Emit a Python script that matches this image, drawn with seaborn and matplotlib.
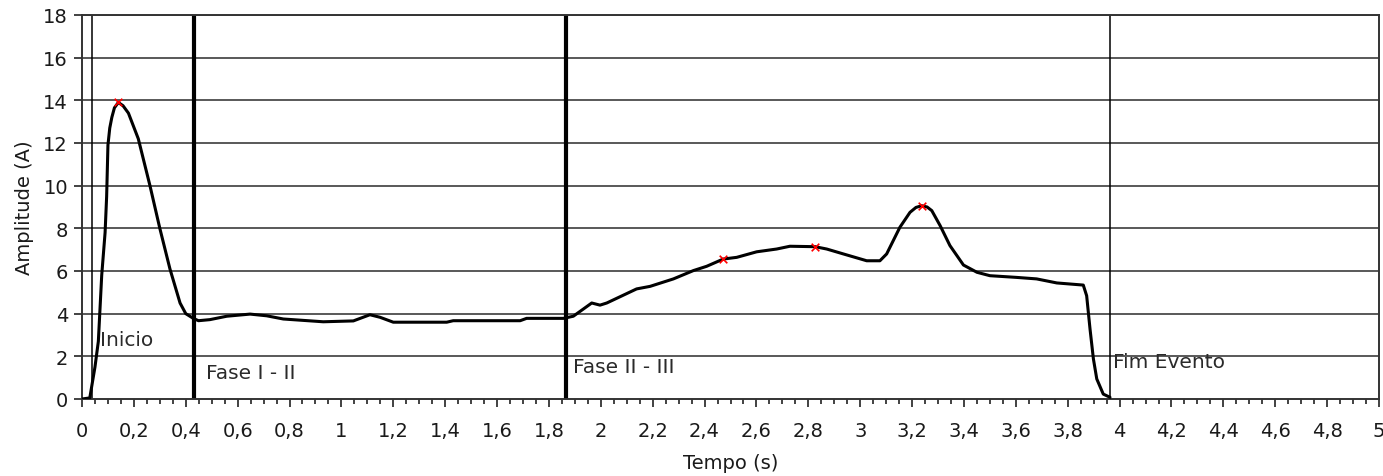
import numpy as np
import pandas as pd
import seaborn as sns
import matplotlib.pyplot as plt
from matplotlib.ticker import MultipleLocator, FuncFormatter

# ---- data ----
tempo = [0.0, 0.03, 0.05, 0.063, 0.076, 0.089, 0.095, 0.10, 0.107, 0.115, 0.125, 0.14, 0.158,
         0.179, 0.217, 0.262, 0.30, 0.339, 0.378, 0.40, 0.429, 0.449, 0.493, 0.558, 0.648,
         0.712, 0.776, 0.93, 1.046, 1.11, 1.149, 1.2, 1.406, 1.431, 1.689, 1.714, 1.856,
         1.894, 1.933, 1.965, 1.997, 2.023, 2.138, 2.19, 2.28, 2.357, 2.408, 2.472, 2.524,
         2.601, 2.678, 2.729, 2.826, 2.871, 2.935, 3.025, 3.076, 3.102, 3.153, 3.192, 3.215,
         3.237, 3.258, 3.276, 3.308, 3.346, 3.398, 3.45, 3.5, 3.603, 3.68, 3.758, 3.86,
         3.873, 3.886, 3.899, 3.912, 3.937, 3.963]
amplitude = [0.0, 0.05, 1.5, 2.7, 5.8, 7.8, 9.5, 11.9, 12.7, 13.2, 13.65, 13.9, 13.75,
             13.4, 12.2, 10.0, 8.0, 6.1, 4.5, 4.0, 3.78, 3.67, 3.72, 3.88, 3.98,
             3.9, 3.75, 3.62, 3.66, 3.95, 3.83, 3.6, 3.6, 3.67, 3.67, 3.78, 3.78,
             3.88, 4.22, 4.5, 4.4, 4.5, 5.16, 5.28, 5.63, 6.02, 6.22, 6.56, 6.64,
             6.9, 7.03, 7.16, 7.14, 7.03, 6.8, 6.48, 6.48, 6.8, 8.05, 8.75, 8.98,
             9.06, 9.0, 8.83, 8.13, 7.19, 6.28, 5.94, 5.78, 5.7, 5.63, 5.44, 5.34,
             4.84, 3.28, 1.88, 0.94, 0.23, 0.08]

peak_t = [0.14, 2.472, 2.826, 3.237]
peak_a = [13.9, 6.56, 7.14, 9.06]

marker_t = [0.0386, 0.432, 1.866, 3.963]
marker_labels = ["Inicio", "Fase I - II", "Fase II - III", "Fim Evento"]
marker_widths = [1.1, 3.0, 3.0, 1.1]
label_y = [2.8, 1.22, 1.5, 1.75]
label_dx = [0.03, 0.045, 0.025, 0.013]

x_ticks = [round(0.2 * i, 1) for i in range(26)]
y_ticks = list(range(0, 19, 2))

# ---- plot ----
sns.set_theme(style="ticks")
plt.rcParams['font.family'] = ['DejaVu Sans']

fig = plt.figure(figsize=(13.83, 4.77), dpi=100)
ax = fig.add_axes([82 / 1383, 1 - 400 / 477, (1379 - 82) / 1383, (400 - 16) / 477])

df = pd.DataFrame({"Tempo": tempo, "Amplitude": amplitude})

for yv in y_ticks[1:]:
    ax.axhline(yv, color="#2b2b2b", lw=1.1, zorder=1)

for t, w in zip(marker_t, marker_widths):
    ax.axvline(t, color="black", lw=w, zorder=2)

sns.lineplot(data=df, x="Tempo", y="Amplitude", color="black", lw=2.2, ax=ax, zorder=3)
sns.scatterplot(x=peak_t, y=peak_a, marker="x", color="red", s=30, linewidth=1.2, ax=ax, zorder=4)

for t, lab, ly, dx in zip(marker_t, marker_labels, label_y, label_dx):
    ax.text(t + dx, ly, lab, fontsize=14.5, color="#2a2a2a", va="center", ha="left", zorder=5)

ax.set_xlim(0, 5)
ax.set_ylim(0, 18)
ax.set_xticks(x_ticks)
ax.set_yticks(y_ticks)
ax.xaxis.set_minor_locator(MultipleLocator(0.05))
fmt = FuncFormatter(lambda v, p: (f"{v:.1f}".rstrip("0").rstrip(".")).replace(".", ","))
ax.xaxis.set_major_formatter(fmt)
ax.tick_params(axis="both", which="major", labelsize=14, length=6, width=1.2, color="#222222",
               labelcolor="#1a1a1a", direction="out", pad=4)
ax.tick_params(axis="x", which="major", pad=10)
ax.tick_params(axis="x", which="minor", length=3.5, width=1.2, color="#222222")
ax.set_xlabel("Tempo (s)", fontsize=14, color="#1a1a1a", labelpad=9)
ax.set_ylabel("Amplitude (A)", fontsize=14, color="#1a1a1a", labelpad=7)
for s in ax.spines.values():
    s.set_color("#333333")
    s.set_linewidth(1.4)
ax.set_facecolor("white")

fig.savefig("out.png", dpi=100)
